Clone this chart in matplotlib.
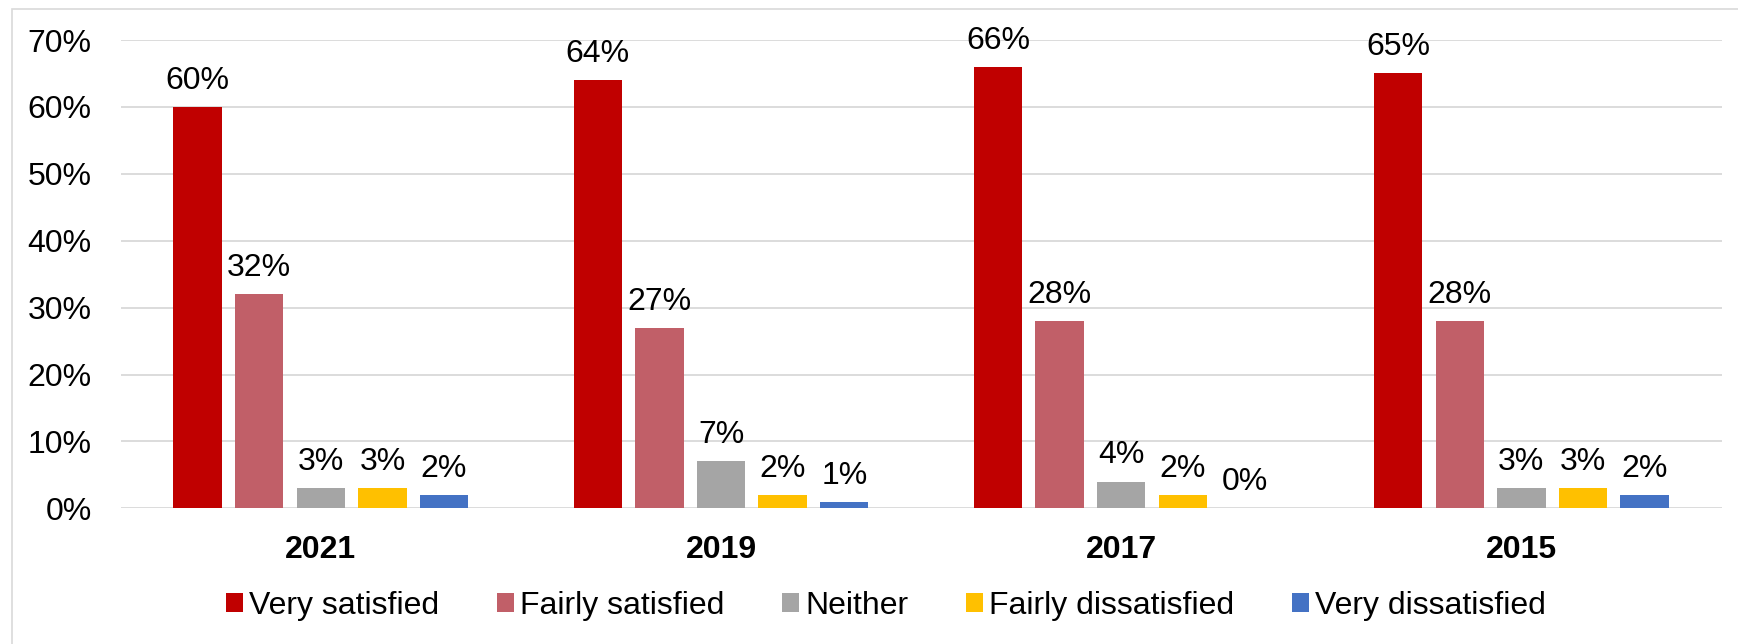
import matplotlib
matplotlib.use("Agg")
import matplotlib.pyplot as plt
from matplotlib.patches import Patch, Rectangle
from matplotlib.ticker import FuncFormatter

years = ["2021", "2019", "2017", "2015"]
series = ["Very satisfied", "Fairly satisfied", "Neither", "Fairly dissatisfied", "Very dissatisfied"]
very_satisfied = [60, 64, 66, 65]
fairly_satisfied = [32, 27, 28, 28]
neither = [3, 7, 4, 3]
fairly_dissatisfied = [3, 2, 2, 3]
very_dissatisfied = [2, 1, 0, 2]
values = [very_satisfied, fairly_satisfied, neither, fairly_dissatisfied, very_dissatisfied]
colors = ["#C00000", "#C15F68", "#A5A5A5", "#FFC000", "#4472C4"]
yticks = [0, 10, 20, 30, 40, 50, 60, 70]

plt.rcParams['font.family'] = ['Liberation Sans', 'DejaVu Sans']

FS = 23
W, H = 1738, 644
fig = plt.figure(figsize=(W / 100, H / 100), dpi=100)
left, right, top, bottom = 120.7, 1721.5, 40.0, 508.3
ax = fig.add_axes([left / W, 1 - bottom / H, (right - left) / W, (bottom - top) / H])

# outer chart border (right/bottom edges cropped in the reference)
fig.patches.append(Rectangle((11.5 / W, -0.1), 2.0, 1.1 - 9.5 / H, transform=fig.transFigure,
                             fill=False, edgecolor="#d9d9d9", linewidth=1.2, zorder=0))

pitch = 0.154
width = 0.121
for j, (name, vals, c) in enumerate(zip(series, values, colors)):
    xs = [i + (j - 2) * pitch for i in range(len(years))]
    ax.bar(xs, vals, width=width, color=c, label=name, zorder=3, linewidth=0)
    for x, v in zip(xs, vals):
        ax.annotate(f"{v}%", (x, v), xytext=(0, 13), textcoords="offset points",
                    ha="center", va="baseline", fontsize=FS, color="black", zorder=4)

ax.set_xlim(-0.5, len(years) - 0.5)
ax.set_ylim(0, 70)
ax.set_yticks(yticks)
ax.yaxis.set_major_formatter(FuncFormatter(lambda v, p: f"{v:.0f}%"))
ax.set_xticks(range(len(years)))
ax.set_xticklabels(years, fontsize=FS, fontweight="bold")
ax.tick_params(axis="x", length=0, pad=19)
ax.tick_params(axis="y", length=0, pad=21, labelsize=FS)
ax.grid(axis="y", color="#d9d9d9", linewidth=1.3, zorder=0)
ax.set_axisbelow(True)
for s in ax.spines.values():
    s.set_visible(False)

fspx = FS * 100 / 72
handles = [Patch(facecolor=c, edgecolor="none", label=n) for n, c in zip(series, colors)]
fig.legend(handles=handles, loc="center", bbox_to_anchor=(886 / W, 1 - 606 / H),
           ncol=5, frameon=False, fontsize=FS, handlelength=17 / fspx, handleheight=17 / fspx,
           handletextpad=6 / fspx, columnspacing=58 / fspx, borderpad=0)

fig.savefig("out.png", dpi=100)
